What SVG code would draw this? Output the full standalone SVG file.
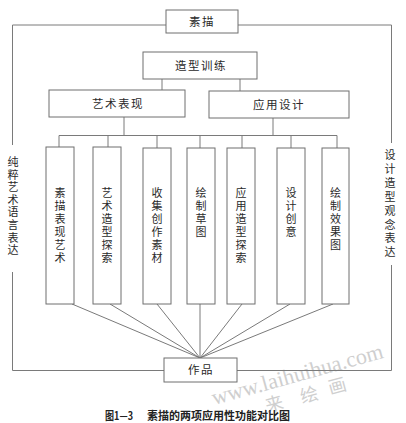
<svg xmlns="http://www.w3.org/2000/svg" width="406" height="423" viewBox="0 0 406 423">
<style>
.bx{fill:#fff;stroke:#6f6f6f;stroke-width:1}
.ln{fill:none;stroke:#7a7a7a;stroke-width:1}
.t{font-family:"Noto Sans CJK SC","Noto Sans CJK JP",sans-serif;font-size:11.5px;fill:#2a2a2a}
.h{text-anchor:middle;letter-spacing:1.5px}
.v{text-anchor:middle;font-size:11px}
.wm{font-family:"Liberation Serif",serif;fill:#cfcfcf}
.wc{font-family:"Noto Sans CJK SC",sans-serif;fill:#cfcfcf;font-size:18px;text-anchor:middle}
.cap{font-family:"Noto Sans CJK SC",sans-serif;font-weight:bold;font-size:11px;fill:#222}
</style>
<rect width="406" height="423" fill="#fff"/>
<g id="watermark">
<text class="wm" font-size="22" transform="translate(214,405) rotate(-15.5)">www.laihuihua.com</text>
<text class="wc" transform="translate(276,410) rotate(-15.5)">来</text>
<text class="wc" transform="translate(311,401) rotate(-15.5)">绘</text>
<text class="wc" transform="translate(339,392) rotate(-15.5)">画</text>
</g>
<g id="connectors" class="ln">
<polyline points="166,25 12.5,25 12.5,145"/>
<polyline points="238,25 391.5,25 391.5,143"/>
<polyline points="12.5,272 12.5,370.5 164,370.5"/>
<polyline points="391.5,265 391.5,370.5 237,370.5"/>
<line x1="162" y1="79" x2="162" y2="90"/>
<line x1="240" y1="79" x2="240" y2="91"/>
<line x1="124" y1="117" x2="124" y2="135.5"/>
<line x1="273" y1="118" x2="273" y2="135.5"/>
<line x1="59" y1="135.5" x2="337" y2="135.5"/>
<line x1="59" y1="135.5" x2="59" y2="147"/>
<line x1="108" y1="135.5" x2="108" y2="147"/>
<line x1="157" y1="135.5" x2="157" y2="148"/>
<line x1="200" y1="135.5" x2="200" y2="148"/>
<line x1="242" y1="135.5" x2="242" y2="148"/>
<line x1="291" y1="135.5" x2="291" y2="148"/>
<line x1="337" y1="135.5" x2="337" y2="148"/>
<line x1="72" y1="304" x2="200" y2="358"/>
<line x1="110" y1="304" x2="200" y2="358"/>
<line x1="157" y1="304" x2="200" y2="358"/>
<line x1="200" y1="304" x2="200" y2="358"/>
<line x1="242" y1="304" x2="200" y2="358"/>
<line x1="290" y1="304" x2="200" y2="358"/>
<line x1="333" y1="304" x2="200" y2="358"/>
</g>
<g id="n-sumiao"><rect class="bx" x="166" y="10" width="72" height="23"/><text class="t h" x="202" y="25.5">素描</text></g>
<g id="n-zaoxing"><rect class="bx" x="143" y="52" width="114" height="27"/><text class="t h" x="201" y="70">造型训练</text></g>
<g id="n-yishu"><rect class="bx" x="49" y="90" width="136" height="27"/><text class="t h" x="118" y="108">艺术表现</text></g>
<g id="n-yingyong"><rect class="bx" x="209" y="91" width="140" height="27"/><text class="t h" x="279" y="109">应用设计</text></g>
<g id="n-b1"><rect class="bx" x="46" y="147" width="28" height="157"/><text class="t v" x="60" y="197"><tspan x="60">素</tspan><tspan x="60" dy="13">描</tspan><tspan x="60" dy="13">表</tspan><tspan x="60" dy="13">现</tspan><tspan x="60" dy="13">艺</tspan><tspan x="60" dy="13">术</tspan></text></g>
<g id="n-b2"><rect class="bx" x="93" y="147" width="28" height="157"/><text class="t v" x="107" y="197"><tspan x="107">艺</tspan><tspan x="107" dy="13">术</tspan><tspan x="107" dy="13">造</tspan><tspan x="107" dy="13">型</tspan><tspan x="107" dy="13">探</tspan><tspan x="107" dy="13">索</tspan></text></g>
<g id="n-b3"><rect class="bx" x="143" y="148" width="28" height="156"/><text class="t v" x="157" y="197"><tspan x="157">收</tspan><tspan x="157" dy="13">集</tspan><tspan x="157" dy="13">创</tspan><tspan x="157" dy="13">作</tspan><tspan x="157" dy="13">素</tspan><tspan x="157" dy="13">材</tspan></text></g>
<g id="n-b4"><rect class="bx" x="187" y="148" width="28" height="156"/><text class="t v" x="201" y="197"><tspan x="201">绘</tspan><tspan x="201" dy="13">制</tspan><tspan x="201" dy="13">草</tspan><tspan x="201" dy="13">图</tspan></text></g>
<g id="n-b5"><rect class="bx" x="227" y="148" width="28" height="156"/><text class="t v" x="241" y="197"><tspan x="241">应</tspan><tspan x="241" dy="13">用</tspan><tspan x="241" dy="13">造</tspan><tspan x="241" dy="13">型</tspan><tspan x="241" dy="13">探</tspan><tspan x="241" dy="13">索</tspan></text></g>
<g id="n-b6"><rect class="bx" x="277" y="148" width="28" height="156"/><text class="t v" x="291" y="197"><tspan x="291">设</tspan><tspan x="291" dy="13">计</tspan><tspan x="291" dy="13">创</tspan><tspan x="291" dy="13">意</tspan></text></g>
<g id="n-b7"><rect class="bx" x="322" y="148" width="27" height="156"/><text class="t v" x="335.5" y="197"><tspan x="335.5">绘</tspan><tspan x="335.5" dy="13">制</tspan><tspan x="335.5" dy="13">效</tspan><tspan x="335.5" dy="13">果</tspan><tspan x="335.5" dy="13">图</tspan></text></g>
<g id="n-left"><text class="t v" x="13" y="166"><tspan x="13">纯</tspan><tspan x="13" dy="12.6">粹</tspan><tspan x="13" dy="12.6">艺</tspan><tspan x="13" dy="12.6">术</tspan><tspan x="13" dy="12.6">语</tspan><tspan x="13" dy="12.6">言</tspan><tspan x="13" dy="12.6">表</tspan><tspan x="13" dy="12.6">达</tspan></text></g>
<g id="n-right"><text class="t v" x="390" y="159"><tspan x="390">设</tspan><tspan x="390" dy="13.9">计</tspan><tspan x="390" dy="13.9">造</tspan><tspan x="390" dy="13.9">型</tspan><tspan x="390" dy="13.9">观</tspan><tspan x="390" dy="13.9">念</tspan><tspan x="390" dy="13.9">表</tspan><tspan x="390" dy="13.9">达</tspan></text></g>
<g id="n-zuopin"><rect class="bx" x="164" y="358" width="73" height="24"/><text class="t h" x="201" y="374">作品</text></g>
<g id="caption"><text class="cap" x="105" y="420" textLength="28" lengthAdjust="spacingAndGlyphs">图1—3</text><text class="cap" x="147" y="420">素描的两项应用性功能对比图</text></g>
</svg>
